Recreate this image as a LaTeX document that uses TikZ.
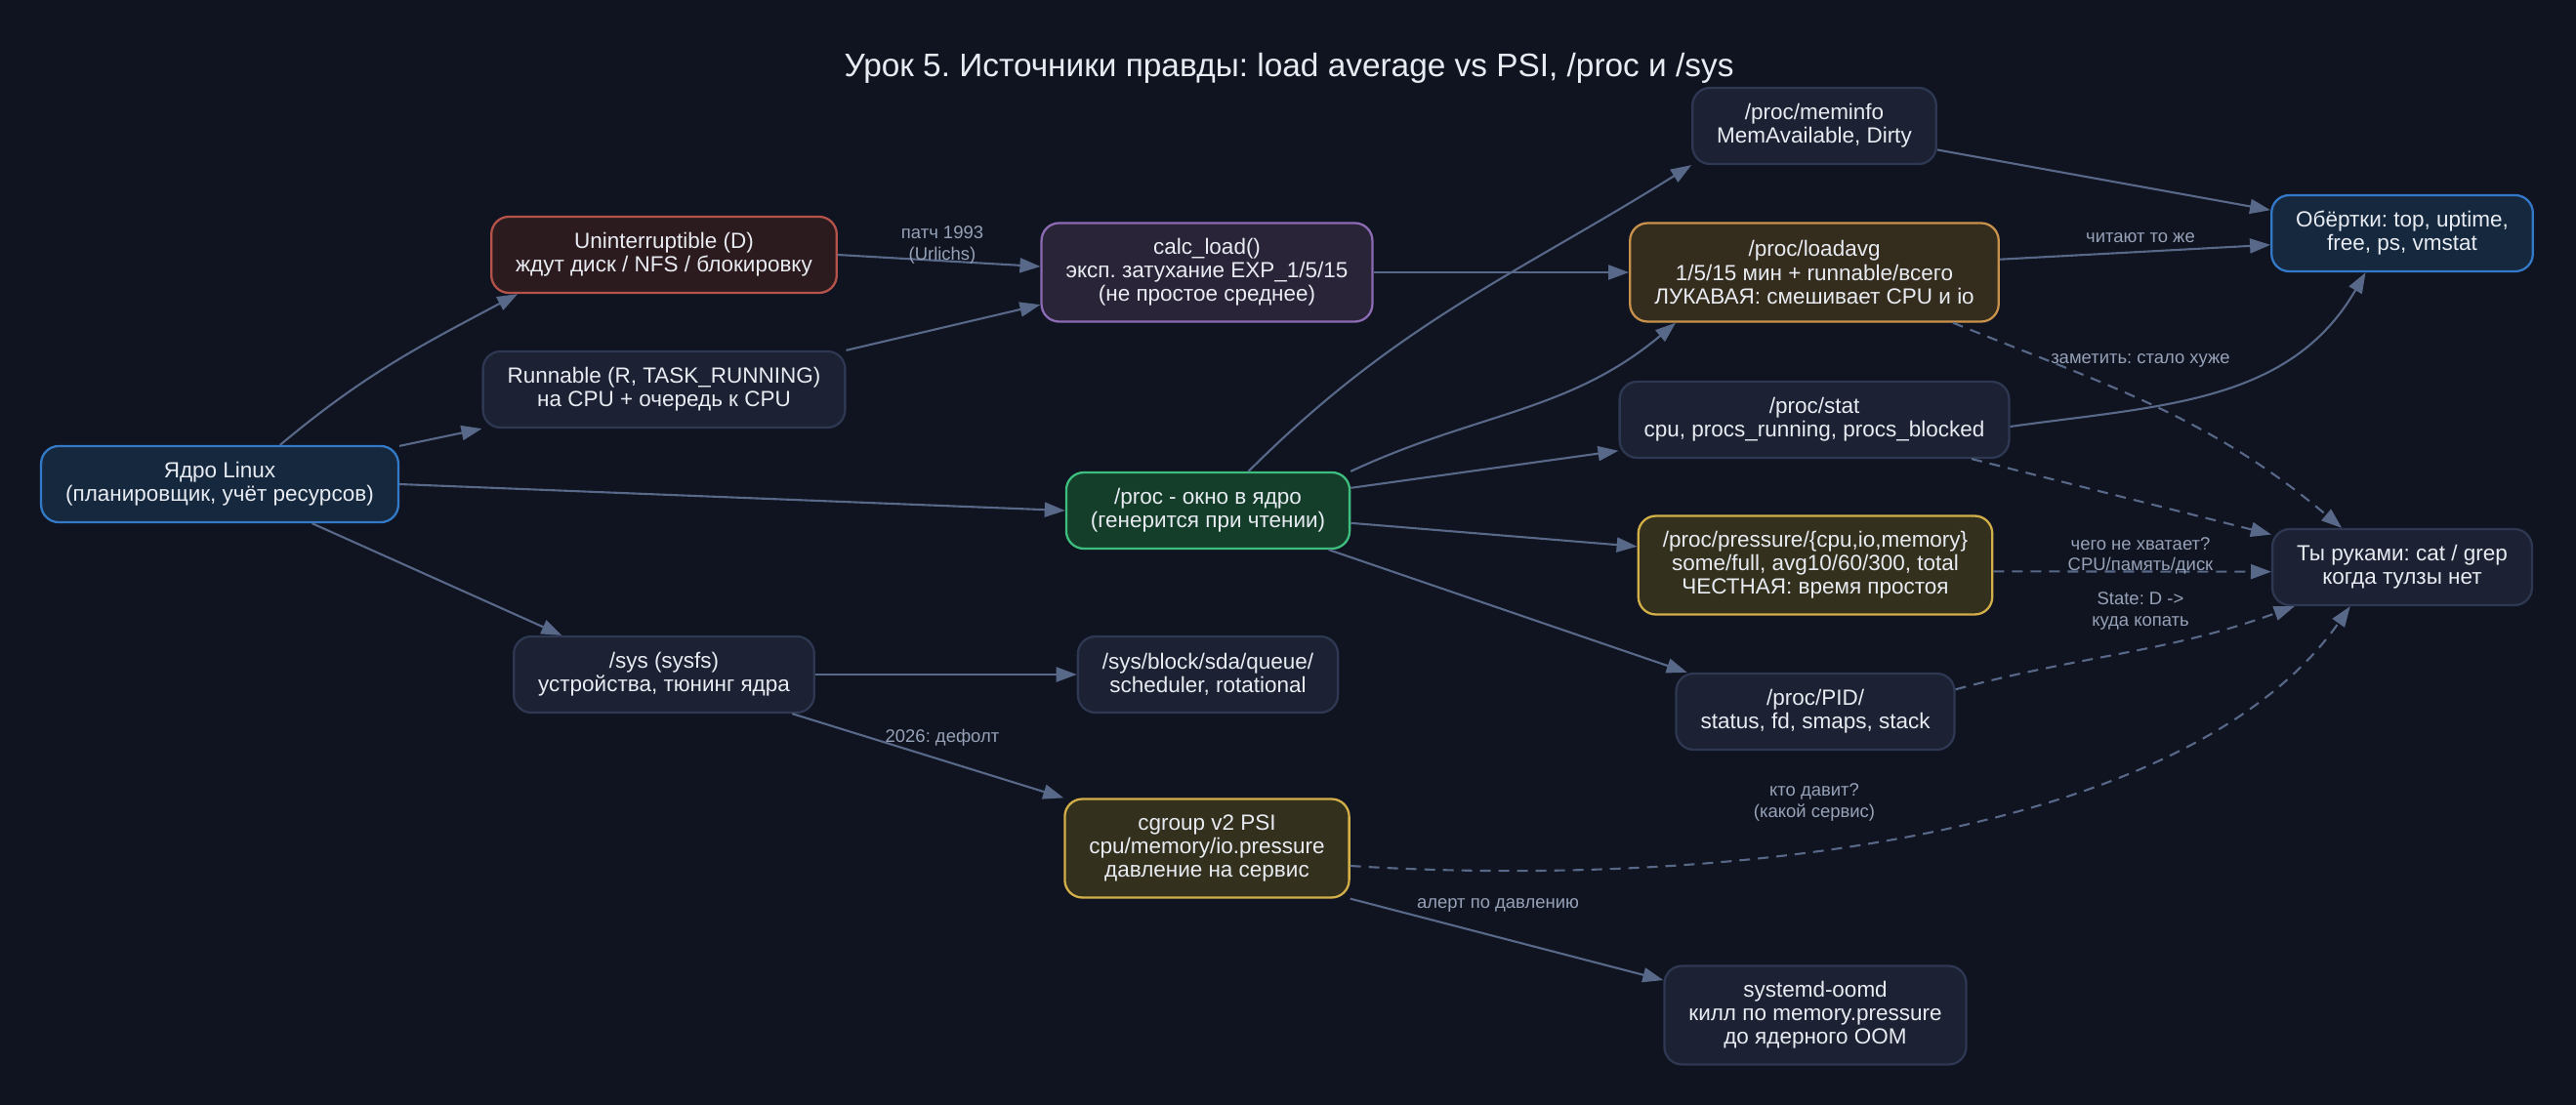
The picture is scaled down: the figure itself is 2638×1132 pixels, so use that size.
\documentclass[tikz,border=0pt]{standalone}
\usepackage{fontspec}
\setmainfont{Liberation Sans}
\usepackage{xcolor}
\definecolor{bgnight}{RGB}{16, 20, 32}
\definecolor{boxfill}{RGB}{28, 33, 51}
\definecolor{boxline}{RGB}{46, 56, 82}
\definecolor{kernfill}{RGB}{21, 40, 62}
\definecolor{kernline}{RGB}{52, 120, 200}
\definecolor{dfill}{RGB}{44, 27, 30}
\definecolor{dline}{RGB}{180, 82, 76}
\definecolor{calcfill}{RGB}{42, 36, 56}
\definecolor{calcline}{RGB}{140, 106, 180}
\definecolor{procfill}{RGB}{20, 62, 42}
\definecolor{procline}{RGB}{62, 190, 126}
\definecolor{lavgfill}{RGB}{52, 44, 29}
\definecolor{lavgline}{RGB}{200, 146, 76}
\definecolor{psifill}{RGB}{51, 48, 29}
\definecolor{psiline}{RGB}{210, 175, 72}
\definecolor{edgeblue}{RGB}{88, 104, 136}
\definecolor{labelgrey}{RGB}{150, 162, 184}
\definecolor{textwhite}{RGB}{232, 236, 242}
\usepackage{tikz}
\usetikzlibrary{arrows.meta}
\frenchspacing

\begin{document}
\begin{tikzpicture}[x=0.02cm, y=-0.02cm, >={Triangle[length=0.42cm, width=0.3cm]},
    nodebox/.style={draw=boxline, fill=boxfill, line width=1.3pt, rounded corners=0.36cm,
        align=center, text=textwhite, font=\fontsize{12.8}{13.7}\selectfont,
        inner xsep=0.5cm, minimum height=1.56cm},
    tall/.style={minimum height=2.02cm},
    kernbox/.style={draw=kernline, fill=kernfill},
    dbox/.style={draw=dline, fill=dfill},
    calcbox/.style={draw=calcline, fill=calcfill},
    procbox/.style={draw=procline, fill=procfill},
    lavgbox/.style={draw=lavgline, fill=lavgfill},
    psibox/.style={draw=psiline, fill=psifill},
    link/.style={->, draw=edgeblue, line width=1.2pt},
    hint/.style={link, dash pattern=on 0.22cm off 0.16cm},
    lbl/.style={text=labelgrey, align=center, font=\fontsize{10.5}{12}\selectfont, inner sep=0pt}]
    \fill[bgnight] (0,0) rectangle (2638,1132);
    \node[anchor=base, text=textwhite, font=\fontsize{19}{22}\selectfont] (title) at (1320,79)
        {Урок 5. Источники правды: load average vs PSI, /proc и /sys};

    \node[nodebox, kernbox] (kernel) at (225,496) {Ядро Linux\\(планировщик, учёт ресурсов)};
    \node[nodebox, dbox] (unint) at (680,261) {Uninterruptible (D)\\ждут диск / NFS / блокировку};
    \node[nodebox] (runnable) at (680,399) {Runnable (R, TASK\_RUNNING)\\на CPU + очередь к CPU};
    \node[nodebox, calcbox, tall] (calcload) at (1236,279) {calc\_load()\\эксп. затухание EXP\_1/5/15\\(не простое среднее)};
    \node[nodebox, procbox] (proc) at (1237,523) {/proc - окно в ядро\\(генерится при чтении)};
    \node[nodebox] (sys) at (680,691) {/sys (sysfs)\\устройства, тюнинг ядра};
    \node[nodebox] (sysblock) at (1237,691) {/sys/block/sda/queue/\\scheduler, rotational};
    \node[nodebox, psibox, tall] (cgroup) at (1236,869) {cgroup v2 PSI\\cpu/memory/io.pressure\\давление на сервис};
    \node[nodebox] (meminfo) at (1858,129) {/proc/meminfo\\MemAvailable, Dirty};
    \node[nodebox, lavgbox, tall] (loadavg) at (1858,279) {/proc/loadavg\\1/5/15 мин + runnable/всего\\ЛУКАВАЯ: смешивает CPU и io};
    \node[nodebox] (stat) at (1858,430) {/proc/stat\\cpu, procs\_running, procs\_blocked};
    \node[nodebox, psibox, tall] (pressure) at (1859,579) {/proc/pressure/\{cpu,io,memory\}\\some/full, avg10/60/300, total\\ЧЕСТНАЯ: время простоя};
    \node[nodebox] (pid) at (1859,729) {/proc/PID/\\status, fd, smaps, stack};
    \node[nodebox, tall] (oomd) at (1859,1040) {systemd-oomd\\килл по memory.pressure\\до ядерного OOM};
    \node[nodebox, kernbox] (wrap) at (2460,239) {Обёртки: top, uptime,\\free, ps, vmstat};
    \node[nodebox] (hand) at (2460,581) {Ты руками: cat / grep\\когда тулзы нет};

    \draw[link] (kernel.33) to[out=40, in=208] (unint.195);
    \draw[link] (kernel.12) -- (runnable.south west);
    \draw[link] (kernel.east) -- (proc.west);
    \draw[link] (kernel.-23) -- (sys.159);
    \draw[link] (unint.east) -- (calcload.178);
    \draw[link] (runnable.north east) -- (calcload.191);
    \draw[link] (calcload.east) -- (loadavg.west);
    \draw[link] (proc.44) to[out=45, in=212] (meminfo.south west);
    \draw[link] (proc.north east) to[out=25, in=220] (loadavg.200);
    \draw[link] (proc.9) -- (stat.189);
    \draw[link] (proc.-5) -- (pressure.174);
    \draw[link] (proc.-18) -- (pid.163);
    \draw[link] (sys.east) -- (sysblock.west);
    \draw[link] (sys.-17) -- (cgroup.north west);
    \draw[link] (cgroup.south east) -- (oomd.167);
    \draw[link] (meminfo.-11) -- (wrap.170);
    \draw[link] (loadavg.4) -- (wrap.185);
    \draw[link] (stat.-2) to[out=8, in=240] (wrap.227);
    \draw[hint] (loadavg.-20) to[out=-22, in=140] (hand.147);
    \draw[hint] (stat.-14) -- (hand.166);
    \draw[hint] (pressure.-2) -- (hand.182);
    \draw[hint] (pid.9) to[out=15, in=200] (hand.200);
    \draw[hint] (cgroup.-7) .. controls +(369,23) and +(-168,239) .. (hand.217);

    \node[lbl] (lpatch) at (965,251) {патч 1993\\(Urlichs)};
    \node[lbl] (ldefault) at (965,756) {2026: дефолт};
    \node[lbl] (lalert) at (1534,927) {алерт по давлению};
    \node[lbl] (lwho) at (1858,822) {кто давит?\\(какой сервис)};
    \node[lbl] (lread) at (2192,244) {читают то же};
    \node[lbl] (lnotice) at (2192,369) {заметить: стало хуже};
    \node[lbl] (llack) at (2192,569) {чего не хватает?\\CPU/память/диск};
    \node[lbl] (lstate) at (2192,626) {State: D ->\\куда копать};
\end{tikzpicture}
\end{document}
